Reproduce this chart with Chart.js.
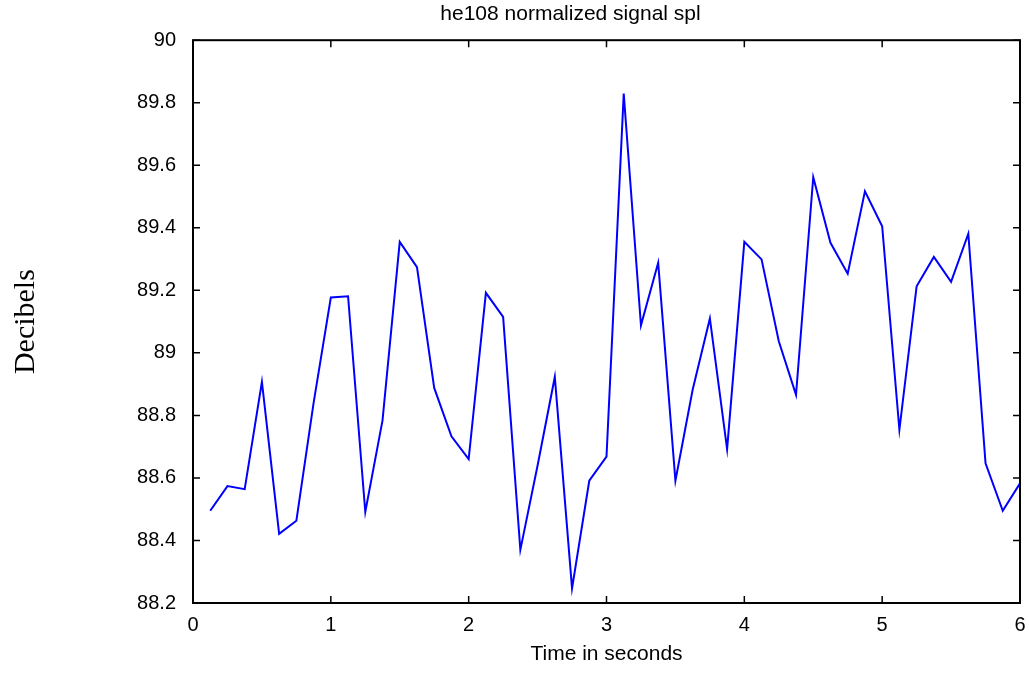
<!DOCTYPE html>
<html>
<head>
<meta charset="utf-8">
<script src="https://cdn.jsdelivr.net/npm/chart.js@4"></script>
<style>
  html, body { margin: 0; padding: 0; background: #fff; }
  canvas { display: block; }
</style>
</head>
<body>
<canvas id="splChart" width="1029" height="676"></canvas>
<script>
// time axis (seconds) and normalized SPL (dB)
const times = [
  0.125, 0.25, 0.375, 0.5, 0.625, 0.75, 0.875, 1.0,
  1.125, 1.25, 1.375, 1.5, 1.625, 1.75, 1.875, 2.0,
  2.125, 2.25, 2.375, 2.5, 2.625, 2.75, 2.875, 3.0,
  3.125, 3.25, 3.375, 3.5, 3.625, 3.75, 3.875, 4.0,
  4.125, 4.25, 4.375, 4.5, 4.625, 4.75, 4.875, 5.0,
  5.125, 5.25, 5.375, 5.5, 5.625, 5.75, 5.875, 6.0
];
const spl = [
  88.495, 88.574, 88.564, 88.907, 88.421, 88.463, 88.84, 89.177,
  89.181, 88.491, 88.784, 89.355, 89.274, 88.888, 88.733, 88.660,
  89.192, 89.115, 88.370, 88.64, 88.923, 88.247, 88.591, 88.668,
  89.829, 89.088, 89.288, 88.591, 88.882, 89.110, 88.692, 89.355,
  89.299, 89.037, 88.866, 89.562, 89.352, 89.253, 89.517, 89.405,
  88.754, 89.213, 89.307, 89.227, 89.381, 88.647, 88.495, 88.583
];
const xTicks = [0, 1, 2, 3, 4, 5, 6];
const yMin = 88.2, yMax = 90, yStep = 0.2;

// frame with inward ticks on all four sides
const boxTicks = {
  id: 'boxTicks',
  afterDraw(chart) {
    const { ctx, chartArea: a, scales: { x, y } } = chart;
    const len = 7;
    ctx.save();
    ctx.strokeStyle = '#000';
    ctx.lineWidth = 1.5;
    ctx.beginPath();
    x.ticks.forEach(t => {
      const px = x.getPixelForValue(t.value);
      ctx.moveTo(px, a.bottom); ctx.lineTo(px, a.bottom - len);
      ctx.moveTo(px, a.top); ctx.lineTo(px, a.top + len);
    });
    y.ticks.forEach(t => {
      const py = y.getPixelForValue(t.value);
      ctx.moveTo(a.left, py); ctx.lineTo(a.left + len, py);
      ctx.moveTo(a.right, py); ctx.lineTo(a.right - len, py);
    });
    ctx.stroke();
    ctx.lineWidth = 2;
    ctx.strokeRect(a.left, a.top, a.right - a.left, a.bottom - a.top);
    ctx.restore();
  }
};

const sans = "'Liberation Sans', Arial, sans-serif";
// left layout padding shifts the main title to the right like the original
const padLeft = 121;

new Chart(document.getElementById('splChart').getContext('2d'), {
  type: 'line',
  data: {
    datasets: [{
      label: 'spl',
      data: times.map((t, i) => ({ x: t, y: spl[i] })),
      borderColor: '#0000ff',
      borderWidth: 2,
      pointRadius: 0,
      tension: 0,
      fill: false
    }]
  },
  options: {
    responsive: false,
    animation: false,
    devicePixelRatio: 1,
    layout: { padding: { left: padLeft, right: 9, top: 0, bottom: 0 } },
    plugins: {
      legend: { display: false },
      tooltip: { enabled: false },
      title: {
        display: true,
        text: 'he108 normalized signal spl',
        color: '#000',
        font: { family: sans, size: 21, weight: 'normal' },
        padding: { top: 2, bottom: 13 }
      }
    },
    scales: {
      x: {
        type: 'linear',
        min: 0,
        max: 6,
        afterFit: s => { s.height = 73; s.paddingLeft = 0; s.paddingRight = 0; },
        afterBuildTicks: s => { s.ticks = xTicks.map(v => ({ value: v })); },
        grid: { display: false, drawTicks: false },
        border: { display: false },
        ticks: {
          color: '#000',
          font: { family: sans, size: 20 },
          padding: 10,
          maxRotation: 0,
          autoSkip: false
        },
        title: {
          display: true,
          text: 'Time in seconds',
          color: '#000',
          font: { family: sans, size: 21 },
          padding: { top: 0, bottom: 9 }
        }
      },
      y: {
        min: yMin,
        max: yMax,
        afterFit: s => { s.width = 193 - padLeft; },
        grid: { display: false, drawTicks: false },
        border: { display: false },
        ticks: {
          stepSize: yStep,
          color: '#000',
          font: { family: sans, size: 20 },
          padding: 17,
          callback: v => String(Number(v.toFixed(1)))
        },
        title: {
          display: true,
          text: 'Decibels',
          color: '#000',
          font: { family: "'Liberation Serif', 'Times New Roman', serif", size: 30 },
          padding: { top: 8 - padLeft, bottom: 0 }
        }
      }
    }
  },
  plugins: [boxTicks]
});
</script>
</body>
</html>
